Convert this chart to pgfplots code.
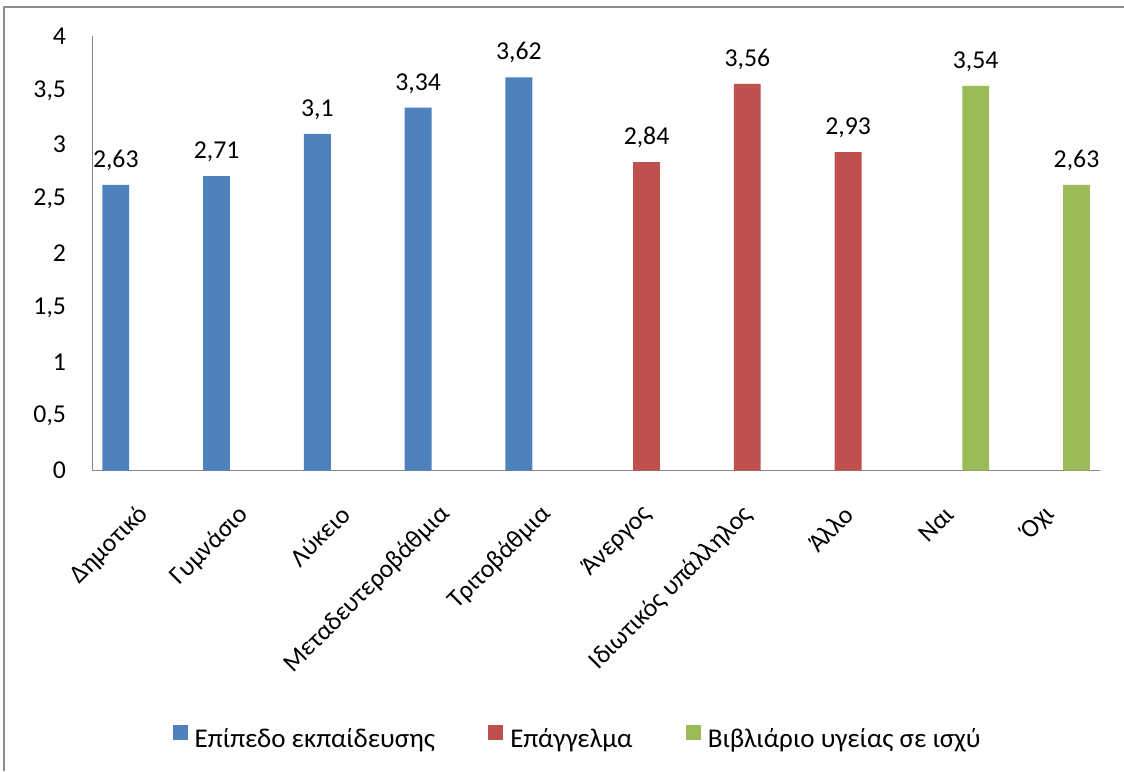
\documentclass[border=0pt]{standalone}
\usepackage{pgfplots}
\pgfplotsset{compat=1.18}
\usepackage{fontspec}
\setmainfont{Carlito}

\definecolor{edu}{HTML}{4F81BD}
\definecolor{job}{HTML}{C0504D}
\definecolor{card}{HTML}{9BBB59}
\definecolor{framegray}{HTML}{8C8C8C}
\definecolor{axisgray}{HTML}{868686}

\newcommand\chartfont{\fontsize{19.3}{23}\selectfont}
\newcommand\legendfont{\fontsize{20.3}{24}\selectfont}

\begin{document}
\begin{tikzpicture}
% page extent and chart frame
\path[use as bounding box] (0pt,0pt) rectangle (843pt,-578.25pt);
\draw[framegray, line width=1.5pt] (3pt,-578.25pt) -- (3pt,-4.9pt) -- (843pt,-4.9pt);

\begin{axis}[
  at={(69.2pt,-352.9pt)}, anchor=south west,
  scale only axis, width=755.8pt, height=325.9pt,
  xmin=-0.5, xmax=9.5, ymin=0, ymax=4,
  axis x line*=bottom, axis y line*=left,
  axis line style={axisgray, line width=1.1pt, -},
  major tick length=0pt,
  ytick={0,0.5,1,1.5,2,2.5,3,3.5,4},
  xtick={0,1,2,3,4,5,6,7,8,9},
  xticklabels={Δημοτικό, Γυμνάσιο, Λύκειο, Μεταδευτεροβάθμια, Τριτοβάθμια, Άνεργος, Ιδιωτικός υπάλληλος, Άλλο, Ναι, Όχι},
  /pgf/number format/.cd, use comma, fixed, precision=2, assume math mode=true,
  /pgfplots/.cd,
  yticklabel style={font=\chartfont, anchor=east, inner sep=0pt, xshift=-19.5pt},
  xticklabel style={font=\chartfont, inner sep=0pt, yshift=-30pt, xshift=1pt, rotate=45, anchor=east},
  ybar, bar width=0.2667,
  nodes near coords,
  every node near coord/.append style={font=\chartfont, text=black, anchor=base, inner sep=0pt, yshift=13pt},
  legend columns=3,
  legend style={at={(0.4807,-0.613)}, anchor=center, draw=none, fill=none,
    font=\legendfont, nodes={inner sep=0pt},
    /tikz/every odd column/.append style={column sep=5.25pt},
    /tikz/every even column/.append style={column sep=40pt}},
  legend image code/.code={\fill[#1] (0pt,-1pt) rectangle (11.25pt,10.25pt);},
]
\addplot[fill=edu, draw=none, bar shift=-0.2667] coordinates {(0,2.63) (1,2.71) (2,3.10) (3,3.34) (4,3.62)};
\addplot[fill=job, draw=none, bar shift=0] coordinates {(5,2.84) (6,3.56) (7,2.93)};
\addplot[fill=card, draw=none, bar shift=0.2667] coordinates {(8,3.54) (9,2.63)};
\legend{Επίπεδο εκπαίδευσης, Επάγγελμα, Βιβλιάριο υγείας σε ισχύ}
\end{axis}
\end{tikzpicture}
\end{document}
